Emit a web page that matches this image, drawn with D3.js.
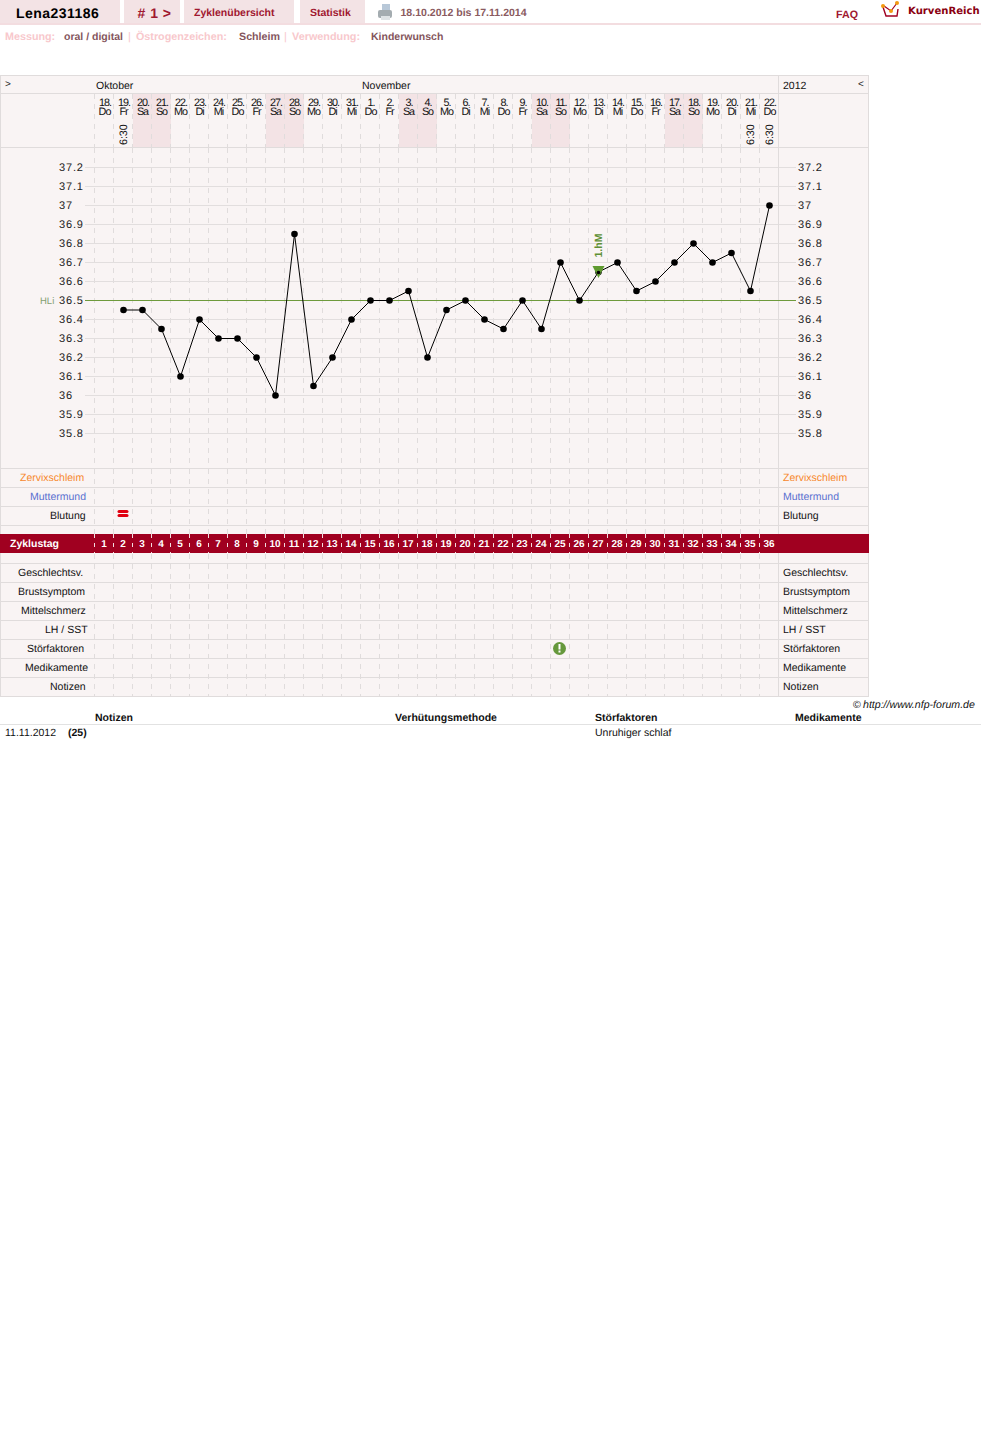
<!DOCTYPE html>
<html><head><meta charset="utf-8">
<style>html,body{margin:0;padding:0;background:#fff}svg{display:block}text{font-family:"Liberation Sans",Arial,sans-serif;text-rendering:geometricPrecision}</style>
<script src="https://cdnjs.cloudflare.com/ajax/libs/d3/7.8.5/d3.min.js"></script>
</head><body><svg id="c" width="981" height="1436"></svg>
<script>
const dayNums=["18.","19.","20.","21.","22.","23.","24.","25.","26.","27.","28.","29.","30.","31.","1.","2.","3.","4.","5.","6.","7.","8.","9.","10.","11.","12.","13.","14.","15.","16.","17.","18.","19.","20.","21.","22."];
const weekdays=["Do","Fr","Sa","So","Mo","Di","Mi","Do","Fr","Sa","So","Mo","Di","Mi","Do","Fr","Sa","So","Mo","Di","Mi","Do","Fr","Sa","So","Mo","Di","Mi","Do","Fr","Sa","So","Mo","Di","Mi","Do"];
const cycleDays=d3.range(1,37);
const tempDays=[2,3,4,5,6,7,8,9,10,11,12,13,14,15,16,17,18,19,20,21,22,23,24,25,26,27,28,29,30,31,32,33,34,35,36];
const temps=[36.45,36.45,36.35,36.1,36.4,36.3,36.3,36.2,36.0,36.85,36.05,36.2,36.4,36.5,36.5,36.55,36.2,36.45,36.5,36.4,36.35,36.5,36.35,36.7,36.5,36.65,36.7,36.55,36.6,36.7,36.8,36.7,36.75,36.55,37.0];
const tempTicks=[37.2,37.1,37,36.9,36.8,36.7,36.6,36.5,36.4,36.3,36.2,36.1,36,35.9,35.8];
const timeDays=[2,35,36];
const rowsTop=["Zervixschleim","Muttermund","Blutung"];
const rowsBottom=["Geschlechtsv.","Brustsymptom","Mittelschmerz","LH / SST","Störfaktoren","Medikamente","Notizen"];
const coverline=36.5, peakDay=27, peakTemp=36.65, bleedDay=2, disturbDay=25;

const svg=d3.select("#c");
const x=d3.scaleBand().domain(cycleDays).range([94.5,778.5]);
const cx=d=>x(d)+x.bandwidth()/2;
const y=d3.scaleLinear().domain([35.8,37.2]).range([433,167]);
const bg="#f9f4f4",wk="#f3e3e5",grid="#e0dcdc",dark="#a00020";
const font=(s,sz,fill,anchor,weight,ls)=>s.attr("font-size",sz).attr("fill",fill).attr("text-anchor",anchor||"start").attr("font-weight",weight||"normal").attr("letter-spacing",ls||0);
const T=(xx,yy,t,sz,fill,a,w,ls)=>font(svg.append("text").attr("x",xx).attr("y",yy).text(t),sz,fill,a,w,ls);
const R=(a,b,w,h,f)=>svg.append("rect").attr("x",a).attr("y",b).attr("width",w).attr("height",h).attr("fill",f);
const L=(a,b,c,d,col,dash)=>svg.append("line").attr("x1",a).attr("y1",b).attr("x2",c).attr("y2",d).attr("stroke",col).attr("stroke-width",1).attr("stroke-dasharray",dash||null);

// top nav
[[0,120],[124,56],[184,110],[300,65]].forEach(d=>R(d[0],0,d[1],23,"#f3e3e5"));
R(0,23,981,2,"#f3dde0");
T(16,18,"Lena231186",14,"#000","start","bold",.45);
T(137.5,18,"# 1 >",14,"#a01830","start","bold",.5);
T(194,16,"Zyklenübersicht",10.5,"#a01830","start","bold");
T(310,16,"Statistik",10.5,"#a01830","start","bold");
T(400.5,16,"18.10.2012 bis 17.11.2014",10.55,"#8a5a60","start","bold");
T(836,18,"FAQ",10.7,"#a01830","start","bold");
T(908,14,"KurvenReich",10.1,"#8a0010","start","bold").style("font-family","'DejaVu Sans'");
// printer icon
R(382,4,8,7,"#b8c8d8");
svg.append("rect").attr("x",378).attr("y",10).attr("width",14).attr("height",8).attr("rx",2).attr("fill","#a4acb0");
R(381,16,9,4,"#dfe3e5");
// logo
const g=svg.append("g");
g.append("path").attr("d","M883 7 L886 16 L897 16 L898 9").attr("fill","#fff").attr("stroke","#a00020").attr("stroke-width",1.4);
g.append("path").attr("d","M884 6 L891 11 L897 3").attr("fill","none").attr("stroke","#a00020").attr("stroke-width",1.2);
[[883,6],[891,11],[897,3]].forEach(p=>g.append("circle").attr("cx",p[0]).attr("cy",p[1]).attr("r",2).attr("fill","#f39a10"));
// meta row
const pink="#f8c8cc",mt="#84555c";
T(5,40,"Messung:",10.75,pink,"start","bold");
T(64,40,"oral / digital",10.5,mt,"start","bold");
T(128,40,"|",11,pink);
T(136,40,"Östrogenzeichen:",10.75,pink,"start","bold");
T(239,40,"Schleim",10.7,mt,"start","bold");
T(284,40,"|",11,pink);
T(292,40,"Verwendung:",10.85,pink,"start","bold");
T(371,40,"Kinderwunsch",10.5,mt,"start","bold");

// panel
R(0.5,75.5,868,621,bg);
// weekend shading
cycleDays.filter((d,i)=>weekdays[i]==="Sa"||weekdays[i]==="So").forEach(d=>R(Math.round(x(d)),94,19,53,wk));
// vertical day dashes
[[94,147],[148,468],[469,534],[554,696]].forEach(b=>cycleDays.forEach(d=>L(Math.floor(x(d))+.5,b[0],Math.floor(x(d))+.5,b[1],grid,"5,5")));
// temp gridlines
tempTicks.forEach(t=>L(85,Math.round(y(t))+.5,796,Math.round(y(t))+.5,"#e2dede"));
// horizontal rows
[75,93,147,468,487,506,525,563,582,601,620,639,658,677,696].forEach(v=>L(0,v+.5,869,v+.5,grid));
[0,778,868].forEach(v=>L(v+.5,75,v+.5,697,grid));
// red band
R(0,534,869,19,dark);
cycleDays.forEach(d=>L(Math.floor(x(d))+.5,534,Math.floor(x(d))+.5,553,"#f3dde0","4,5"));
T(10,547,"Zyklustag",10.5,"#fff","start","bold");
svg.append("g").selectAll("text").data(cycleDays).join("text").attr("x",d=>cx(d)).attr("y",547).text(d=>d).call(font,10,"#fff","middle","bold");

// header labels
T(5,87,">",10,"#222");
T(96,89,"Oktober",10.5,"#111");
T(362,89,"November",10.5,"#111");
T(783,89,"2012",10.5,"#111");
T(858,87,"<",10,"#222");
svg.append("g").selectAll("text").data(cycleDays).join("text").attr("x",d=>cx(d)+1).attr("y",105.5).text((d,i)=>dayNums[i]).call(font,10.8,"#111","middle","normal",-1);
svg.append("g").selectAll("text").data(cycleDays).join("text").attr("x",d=>cx(d)+.5).attr("y",115).text((d,i)=>weekdays[i]).call(font,10.8,"#111","middle","normal",-1);
timeDays.forEach(d=>T(0,0,"6:30",10.8,"#111","start",null,-.1).attr("transform",`translate(${cx(d)+3.8},145) rotate(-90)`));

// temp labels
svg.append("g").selectAll("text").data(tempTicks).join("text").attr("x",59).attr("y",t=>y(t)+4).text(t=>t).call(font,11,"#222","start","normal",.85);
svg.append("g").selectAll("text").data(tempTicks).join("text").attr("x",798).attr("y",t=>y(t)+4).text(t=>t).call(font,11,"#222","start","normal",.85);
// coverline
T(40,303.5,"HLi",9.5,"#84a070");
L(85,Math.round(y(coverline))+.5,796,Math.round(y(coverline))+.5,"#6e9a3c");
// line + points (marks sit on pixel centres)
const px_=d=>cx(d)+.5, py_=t=>y(t)+.5;
const line=d3.line().x((d,i)=>px_(tempDays[i])).y(d=>py_(d));
svg.append("path").attr("d",line(temps)).attr("fill","none").attr("stroke","#000").attr("stroke-width",1);
svg.append("g").selectAll("circle").data(temps).join("circle").attr("cx",(d,i)=>px_(tempDays[i])).attr("cy",d=>py_(d)).attr("r",3.3).attr("fill","#000");
// peak marker over its point, with the point's lower part left visible
const pk=d3.path();const px=px_(peakDay),py=py_(peakTemp);
pk.moveTo(px-6,py-6);pk.lineTo(px+6,py-6);pk.lineTo(px,py+6);pk.closePath();
svg.append("path").attr("d",pk.toString()).attr("fill","#5f9a30");
svg.append("circle").attr("cx",px).attr("cy",py+.5).attr("r",1.8).attr("fill","#000");
T(0,0,"1.hM",10.5,"#5f9035","start","bold").attr("transform",`translate(${px+3},${py-14.5}) rotate(-90)`);

// row labels
const topStyle=[{x:20,c:"#f7882c"},{x:30,c:"#5a70d0"},{x:50,c:"#111"}];
rowsTop.forEach((r,i)=>{const yy=481+19*i;T(topStyle[i].x,yy,r,10.5,topStyle[i].c);T(783,yy,r,10.5,topStyle[i].c);});
const botX=[18,18,21,45,27,25,50];
rowsBottom.forEach((r,i)=>{const yy=576+19*i;T(botX[i],yy,r,10.5,"#111");T(783,yy,r,10.5,"#111");});
// bleeding marker
[511,515].forEach(v=>svg.append("rect").attr("x",cx(bleedDay)-5.5).attr("y",v-1).attr("width",11).attr("height",3).attr("rx",1.5).attr("fill","#e00010"));
// disturbance icon
const dx=cx(disturbDay)-.5;
svg.append("circle").attr("cx",dx).attr("cy",648.5).attr("r",6.5).attr("fill","#66983c");
R(dx-1,644,2,5.5,"#fff");
R(dx-1,650.5,2,2,"#fff");

// footer
T(853,708,"©",10.5,"#111");
T(863,708,"http://www.nfp-forum.de",10.6,"#111").attr("font-style","italic");
T(95,721,"Notizen",10.5,"#111","start","bold");
T(395,721,"Verhütungsmethode",10.55,"#111","start","bold");
T(595,721,"Störfaktoren",10.5,"#111","start","bold");
T(795,721,"Medikamente",10.5,"#111","start","bold");
L(0,724.5,981,724.5,"#e2e2e2");
T(5,736,"11.11.2012",10.5,"#111");
T(68,736,"(25)",10.5,"#111","start","bold");
T(595,736,"Unruhiger schlaf",10.5,"#111");
</script></body></html>
